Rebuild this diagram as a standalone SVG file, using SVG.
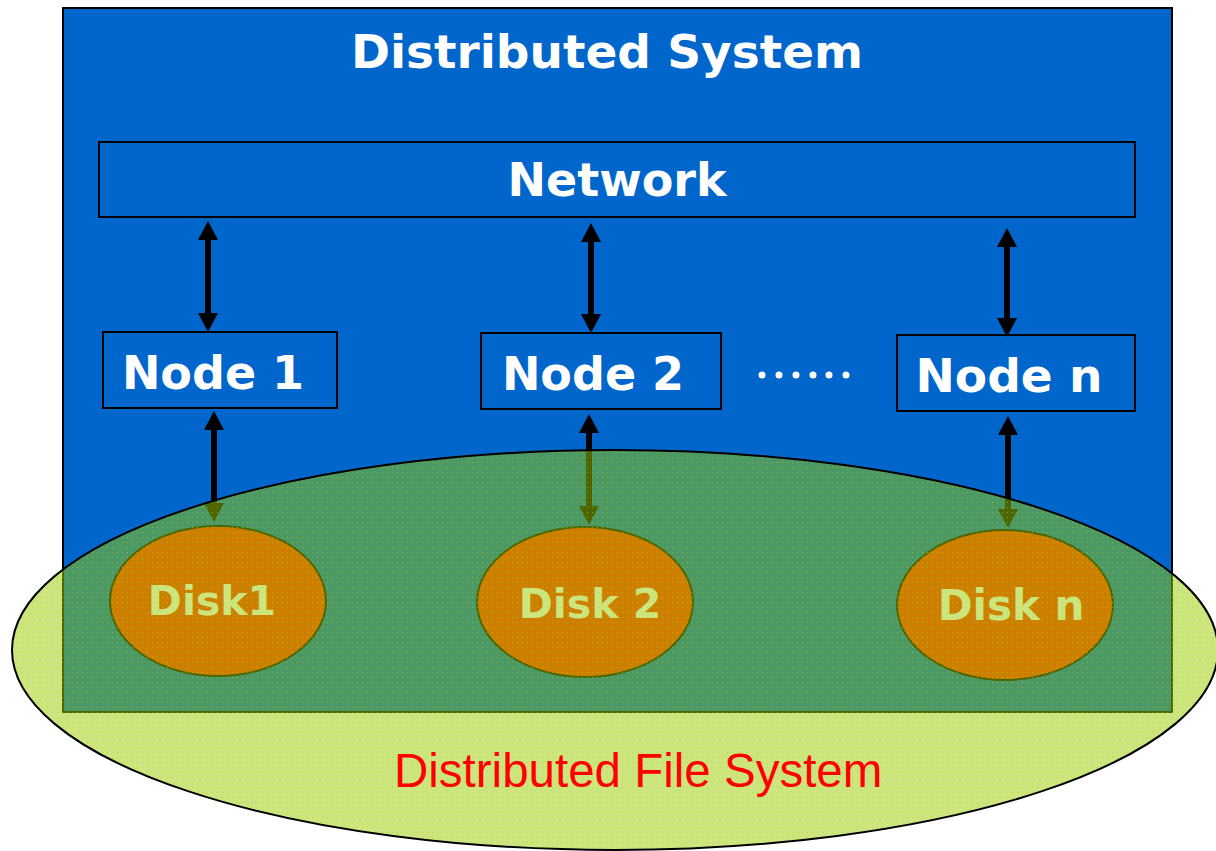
<svg xmlns="http://www.w3.org/2000/svg" width="1216" height="851" viewBox="0 0 1216 851">
  <style>
    .box { fill: #0066cc; stroke: #000; stroke-width: 2; }
    .lbl { font-family: "DejaVu Sans", Verdana, sans-serif; font-weight: bold; fill: #fff; text-anchor: middle; }
    .disk { fill: #ff3300; stroke: #000; stroke-width: 2; }
    .shaft { stroke: #000; stroke-width: 6; fill: none; }
    .tip { fill: #000; }
  </style>
  <defs>
    <pattern id="grain" width="5" height="5" patternUnits="userSpaceOnUse">
      <rect width="5" height="5" fill="#99cc00" fill-opacity="0.5"/>
      <rect x="2" y="2" width="1" height="1" fill="#aadd00" fill-opacity="0.55"/>
    </pattern>
    <!-- upward and downward arrowheads, tip at the origin -->
    <path id="up" class="tip" d="M0,0 L10,19 L-10,19 Z"/>
    <path id="down" class="tip" d="M0,0 L10,-19 L-10,-19 Z"/>
  </defs>

  <!-- outer system frame -->
  <g id="system">
    <rect class="box" x="63" y="8" width="1109" height="704"/>
    <text class="lbl" x="607" y="68" font-size="47">Distributed System</text>
  </g>

  <g id="network">
    <rect class="box" x="99" y="142" width="1036" height="75"/>
    <text class="lbl" x="617" y="196" font-size="46">Network</text>
  </g>

  <g id="node1">
    <rect class="box" x="103" y="332" width="234" height="76"/>
    <text class="lbl" x="213" y="389" font-size="46">Node 1</text>
  </g>
  <g id="node2">
    <rect class="box" x="481" y="333" width="240" height="76"/>
    <text class="lbl" x="593" y="390" font-size="46">Node 2</text>
  </g>
  <g id="noden">
    <rect class="box" x="897" y="335" width="238" height="76"/>
    <text class="lbl" x="1009" y="392" font-size="47">Node n</text>
  </g>

  <g id="ellipsis" fill="#fff">
    <circle cx="762" cy="375" r="3.5"/>
    <circle cx="779" cy="375" r="3.5"/>
    <circle cx="796" cy="375" r="3.5"/>
    <circle cx="813" cy="375" r="3.5"/>
    <circle cx="829" cy="375" r="3.5"/>
    <circle cx="846" cy="375" r="3.5"/>
  </g>

  <!-- double-headed links: network-node and node-disk -->
  <g id="connectors">
    <line class="shaft" x1="208" y1="236" x2="208" y2="317"/>
    <use href="#up" x="208" y="221"/><use href="#down" x="208" y="332"/>
    <line class="shaft" x1="591" y1="238" x2="591" y2="318"/>
    <use href="#up" x="591" y="223"/><use href="#down" x="591" y="333"/>
    <line class="shaft" x1="1007" y1="243" x2="1007" y2="322"/>
    <use href="#up" x="1007" y="228"/><use href="#down" x="1007" y="337"/>
    <line class="shaft" x1="214" y1="426" x2="214" y2="507"/>
    <use href="#up" x="214" y="411"/><use href="#down" x="214" y="522"/>
    <line class="shaft" x1="589" y1="429" x2="589" y2="510"/>
    <use href="#up" x="589" y="414"/><use href="#down" x="589" y="525"/>
    <line class="shaft" x1="1008" y1="431" x2="1008" y2="513"/>
    <use href="#up" x="1008" y="416"/><use href="#down" x="1008" y="528"/>
  </g>

  <g id="disk1">
    <ellipse class="disk" cx="218" cy="601" rx="108" ry="75"/>
    <text class="lbl" x="212" y="615" font-size="41">Disk1</text>
  </g>
  <g id="disk2">
    <ellipse class="disk" cx="585" cy="602" rx="108" ry="75"/>
    <text class="lbl" x="590" y="618" font-size="41">Disk 2</text>
  </g>
  <g id="diskn">
    <ellipse class="disk" cx="1005" cy="605" rx="108" ry="75"/>
    <text class="lbl" x="1011" y="620" font-size="42">Disk n</text>
  </g>

  <!-- translucent file-system overlay -->
  <g id="dfs">
    <ellipse cx="615" cy="650" rx="603" ry="200" fill="url(#grain)" stroke="#000" stroke-width="2"/>
    <text x="394" y="787" font-family="'Liberation Sans', Arial, sans-serif" font-size="47.5" fill="#ff0000">Distributed File System</text>
  </g>
</svg>
